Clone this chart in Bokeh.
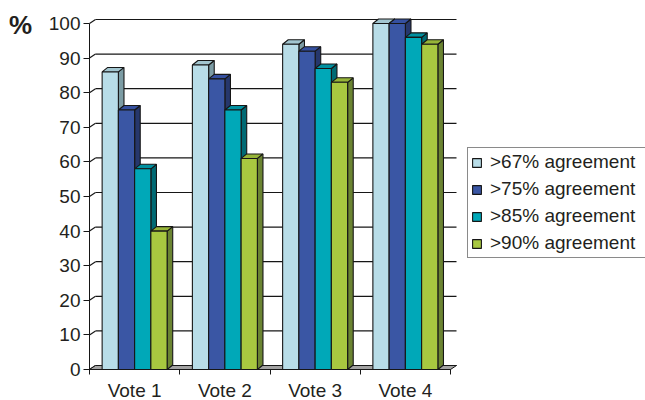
import numpy as np
from bokeh.plotting import figure
from bokeh.models import Range1d, FixedTicker, Legend, LegendItem, Label
from bokeh.embed import file_html
from bokeh.resources import INLINE

# ---- data ----
categories = ["Vote 1", "Vote 2", "Vote 3", "Vote 4"]
series = [">67% agreement", ">75% agreement", ">85% agreement", ">90% agreement"]
agree67 = [86, 88, 94, 100]
agree75 = [75, 84, 92, 100]
agree85 = [58, 75, 87, 96]
agree90 = [40, 61, 83, 94]
y_ticks = [0, 10, 20, 30, 40, 50, 60, 70, 80, 90, 100]
unit_label = "%"

values = [agree67, agree75, agree85, agree90]

# ---- styles ----
front_colors = ["#b8dde8", "#3a56a4", "#00a8b8", "#a8c840"]
side_colors = ["#7c9ca4", "#26376c", "#006a74", "#6b8432"]
top_colors = ["#a2c6d0", "#3550a0", "#0090a0", "#96b438"]
edge = "#161616"
text_color = "#231f20"
FONT = "Liberation Sans"
FS = "19px"

W, H = 645, 400
n = len(categories)
px_cat = 90.25       # pixels per category
px_unit = 3.46       # pixels per y unit
origin_x, origin_y = 89, 369   # pixel position of the front axes corner
wall_dx = 6 / px_cat
wall_dy = 4 / px_unit
bar_dx = 5.6 / px_cat
bar_dy = 4.5 / px_unit
bar_w = 0.18
bar_off = 0.14

# frame covers the whole canvas; the axes are pinned at data 0 with fixed_location
x_range = Range1d(-origin_x / px_cat, (W - origin_x) / px_cat)
y_range = Range1d(-(H - origin_y) / px_unit, origin_y / px_unit)

p = figure(width=W, height=H, x_range=x_range, y_range=y_range,
           output_backend="svg", toolbar_location=None, title_location=None,
           min_border=0)
p.outline_line_color = None
p.xgrid.visible = False
p.ygrid.visible = False
p.background_fill_color = "white"
p.border_fill_color = "white"

# back wall gridlines and side wall diagonals
gx = [[wall_dx, n + wall_dx] for v in y_ticks]
gy = [[v + wall_dy, v + wall_dy] for v in y_ticks]
p.multi_line(gx, gy, line_color=edge, line_width=1.2)
dxs = [[0, wall_dx] for v in y_ticks]
dys = [[v, v + wall_dy] for v in y_ticks]
p.multi_line(dxs, dys, line_color=edge, line_width=1.2)

# floor
p.patch([0, n, n + wall_dx, wall_dx], [0, 0, wall_dy, wall_dy],
        fill_color="#a3a3a3", line_color=edge, line_width=1)

# bars
front_renderers = []
base = np.arange(n)
for i, vals in enumerate(values):
    v = np.array(vals, dtype=float)
    x0 = base + bar_off + i * bar_w
    x1 = x0 + bar_w
    side_xs = [[a, a + bar_dx, a + bar_dx, a] for a in x1]
    side_ys = [[0, bar_dy, h + bar_dy, h] for h in v]
    p.patches(side_xs, side_ys, fill_color=side_colors[i], line_color=edge, line_width=1.1)
    top_xs = [[a, a + bar_dx, b + bar_dx, b] for a, b in zip(x0, x1)]
    top_ys = [[h, h + bar_dy, h + bar_dy, h] for h in v]
    p.patches(top_xs, top_ys, fill_color=top_colors[i], line_color=edge, line_width=1.1)
    r = p.quad(left=x0, right=x1, bottom=0, top=v,
               fill_color=front_colors[i], line_color=edge, line_width=1.1)
    front_renderers.append(r)

# axes
xa = p.xaxis[0]
xa.fixed_location = 0
xa.ticker = FixedTicker(ticks=[k + 0.5 for k in range(n)], minor_ticks=list(range(n + 1)))
xa.major_label_overrides = {k + 0.5: c for k, c in enumerate(categories)}
xa.bounds = (0, n)
xa.major_tick_out = 0
xa.major_tick_in = 0
xa.minor_tick_out = 5
xa.minor_tick_in = 0
xa.major_label_standoff = 5
xa.axis_line_color = edge
xa.minor_tick_line_color = edge
xa.major_label_text_font = FONT
xa.major_label_text_font_size = FS
xa.major_label_text_color = text_color

ya = p.yaxis[0]
ya.fixed_location = 0
ya.ticker = FixedTicker(ticks=y_ticks)
ya.bounds = (0, y_ticks[-1])
ya.major_tick_out = 6
ya.major_tick_in = 0
ya.minor_tick_out = 0
ya.minor_tick_in = 0
ya.major_label_standoff = 3
ya.axis_line_color = edge
ya.major_tick_line_color = edge
ya.major_label_text_font = FONT
ya.major_label_text_font_size = FS
ya.major_label_text_color = text_color

# "%" unit label
p.add_layout(Label(x=8.5, y=H - 24, x_units="screen", y_units="screen", text=unit_label,
                   text_font=FONT, text_font_size="26px", text_font_style="bold",
                   text_color=text_color, text_baseline="alphabetic"))

# legend
legend = Legend(items=[LegendItem(label=s, renderers=[r]) for s, r in zip(series, front_renderers)],
                location=(467, H - 258), orientation="vertical",
                border_line_color=edge, border_line_width=1,
                background_fill_color="white", background_fill_alpha=1,
                glyph_width=11, glyph_height=11, label_standoff=8,
                label_text_font=FONT, label_text_font_size=FS, label_text_color=text_color,
                label_height=21, label_width=160, spacing=5, padding=3, margin=0)
p.add_layout(legend)

open("out.html", "w").write(file_html(p, INLINE))
